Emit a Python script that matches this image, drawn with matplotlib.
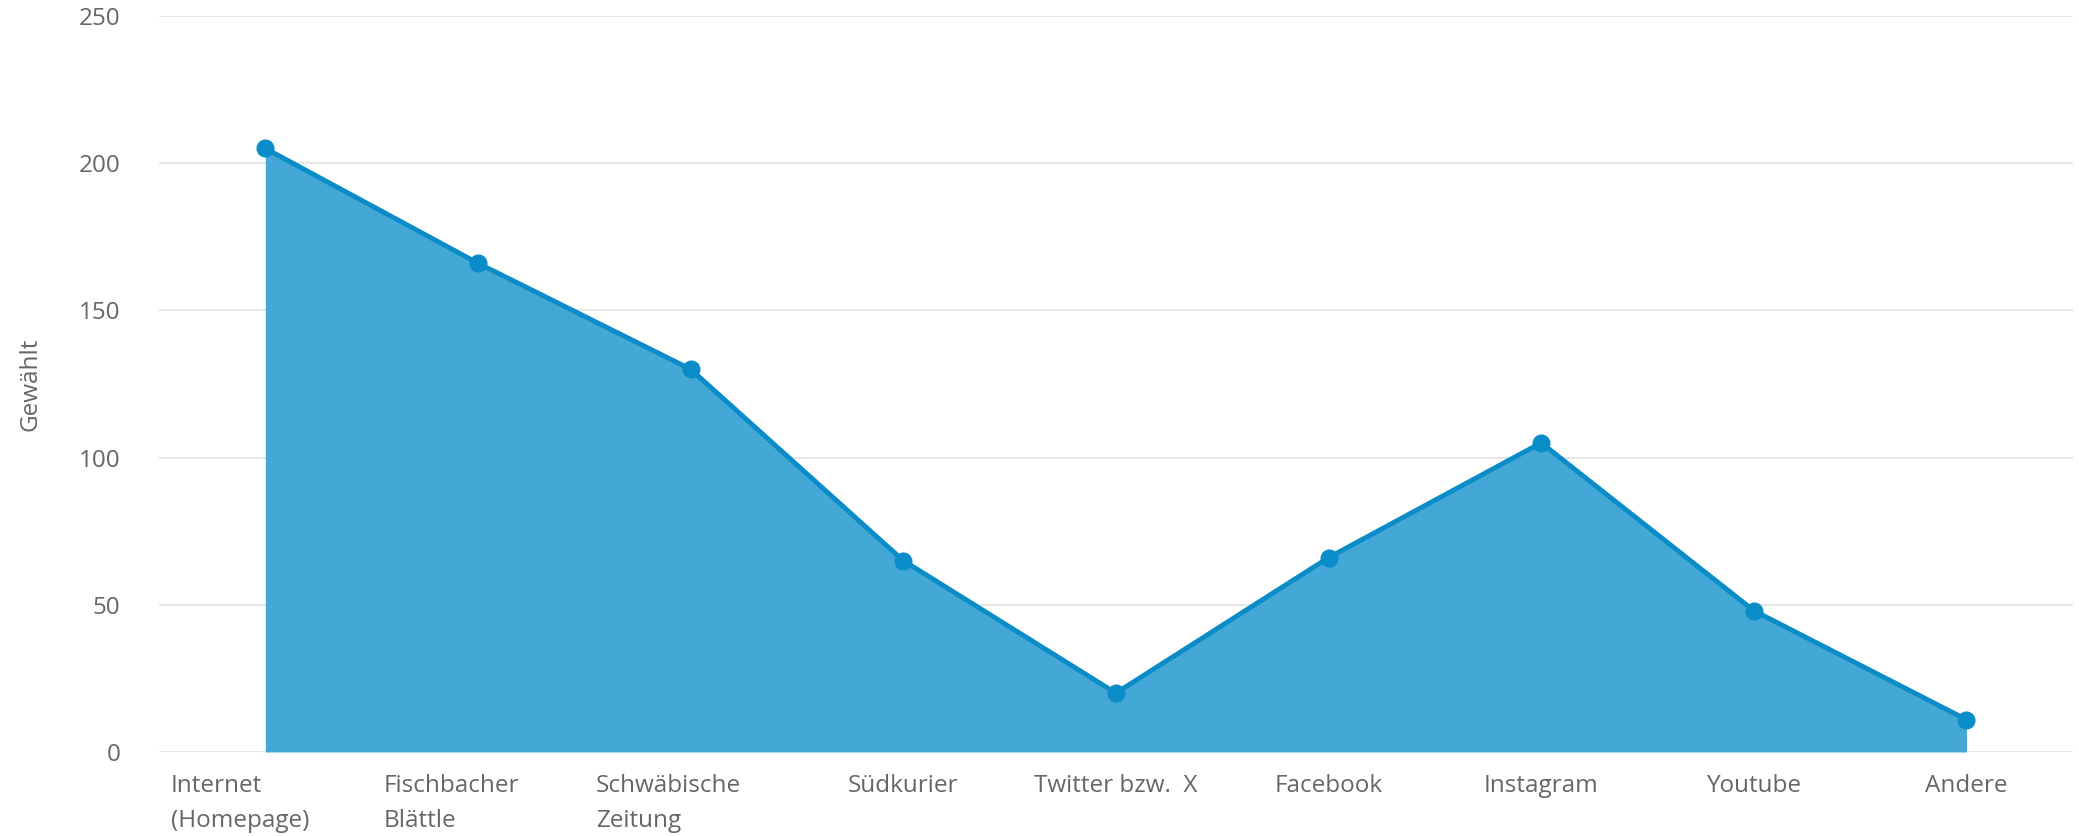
import matplotlib
import matplotlib.pyplot as plt
from matplotlib.transforms import blended_transform_factory, offset_copy

matplotlib.use('Agg')

# Data
categories = ['Internet\n(Homepage)', 'Fischbacher\nBlättle', 'Schwäbische\nZeitung', 'Südkurier',
              'Twitter bzw.  X', 'Facebook', 'Instagram', 'Youtube', 'Andere']
values = [205, 166, 130, 65, 20, 66, 105, 48, 11]
y_ticks = [0, 50, 100, 150, 200, 250]

plt.rcParams['font.family'] = ['Open Sans', 'DejaVu Sans']

fig = plt.figure(figsize=(20.79, 8.36), dpi=100)
ax = fig.add_axes([0.0765, 0.1005, 0.9205, 0.8805])

x = list(range(len(values)))
ax.fill_between(x, values, 0, color='#43a8d5', linewidth=0, zorder=2)
ax.plot(x, values, color='#0a8cc8', linewidth=3.5, marker='o', markersize=12, zorder=3)

ax.set_xlim(-0.5, len(values) - 0.5)
ax.set_ylim(0, 250)
ax.set_yticks(y_ticks)
ax.set_yticklabels([str(t) for t in y_ticks], fontsize=17.5, color='#666666')
ax.tick_params(axis='y', length=0, pad=28)
ax.set_xticks([])
ax.grid(axis='y', color='#e6e6e6', linewidth=1.5, zorder=0)
for s in ax.spines.values():
    s.set_visible(False)

ax.set_ylabel('Gewählt', fontsize=17.5, color='#666666', labelpad=26)

# category labels: wrapped ones left aligned in their band, single ones centered
trans = blended_transform_factory(ax.transData, ax.transAxes)
trans = offset_copy(trans, fig=fig, y=-22, units='dots')
for i, lab in enumerate(categories):
    if '\n' in lab:
        ax.text(i - 0.445, 0, lab, transform=trans, ha='left', va='top',
                fontsize=17.5, color='#666666', linespacing=1.6)
    else:
        ax.text(i, 0, lab, transform=trans, ha='center', va='top',
                fontsize=17.5, color='#666666')

fig.savefig('out.png', dpi=100)
